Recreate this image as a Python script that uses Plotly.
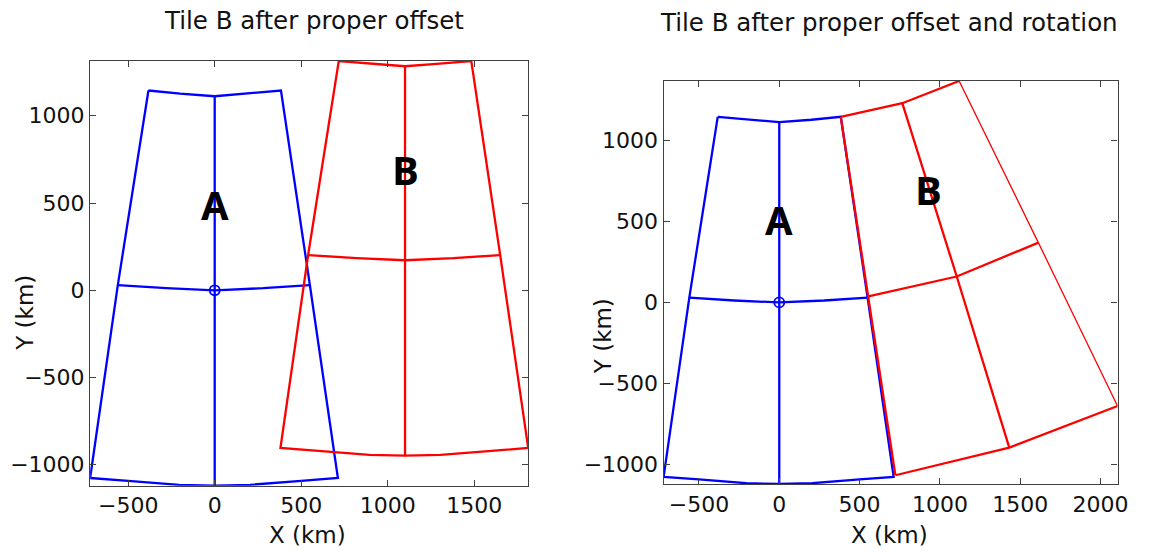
import plotly.graph_objects as go

W, H = 1153, 552

# ---------------- data (km) ----------------
# Tile A (blue), identical in both panels
A_outline_x = [-383, -200, 0, 200, 383, 550, 712, 500, 205, 0, -205, -500, -720, -560, -383]
A_outline_y = [1145, 1127, 1112, 1127, 1145, 30, -1076, -1092, -1115, -1120, -1115, -1092, -1076, 30, 1145]
A_mid_x = [-560, -280, 0, 280, 550]
A_mid_y = [30, 12, 0, 12, 30]
A_vert_x = [0, 0]
A_vert_y = [1112, -1120]
A_center_x = [0]
A_center_y = [0]

# Tile B after offset (left panel, red)
B1_outline_x = [717, 900, 1100, 1300, 1483, 1650, 1812, 1600, 1305, 1100, 895, 600, 380, 540, 717]
B1_outline_y = [1314, 1299, 1284, 1299, 1314, 202, -904, -920, -943, -948, -943, -920, -904, 202, 1314]
B1_mid_x = [540, 820, 1100, 1380, 1650]
B1_mid_y = [202, 184, 172, 184, 202]
B1_vert_x = [1100, 1100]
B1_vert_y = [1284, -948]

# Tile B after offset and rotation (right panel, red)
B2_left_x = [383, 555, 723]
B2_left_y = [1145, 37, -1066]
B2_top_x = [383, 766, 1120]
B2_top_y = [1145, 1229, 1366]
B2_mid_x = [555, 1105, 1613]
B2_mid_y = [37, 160, 369]
B2_bot_x = [723, 1432, 2106]
B2_bot_y = [-1066, -896, -639]
B2_vert_x = [766, 1105, 1432]
B2_vert_y = [1229, 160, -896]
B2_right_x = [1120, 1613, 2106]
B2_right_y = [1366, 369, -639]

# axes
left_xrange = [-720, 1812]
left_yrange = [-1120, 1314]
right_xrange = [-720, 2106]
right_yrange = [-1120, 1366]
left_xticks = [-500, 0, 500, 1000, 1500]
right_xticks = [-500, 0, 500, 1000, 1500, 2000]
yticks = [-1000, -500, 0, 500, 1000]

titles = ["Tile B after proper offset", "Tile B after proper offset and rotation"]
labels_left = [("A", 0, 494), ("B", 1103, 690)]
labels_right = [("A", 0, 512), ("B", 927, 696)]

BLUE = "#0000FF"
RED = "#FF0000"
AX = "#404040"
TXT = "#111111"
FONT = "DejaVu Sans"

fig = go.Figure()


def line(x, y, color, width, xa, ya):
    fig.add_trace(go.Scatter(x=x, y=y, mode="lines", line=dict(color=color, width=width),
                             xaxis=xa, yaxis=ya, showlegend=False, hoverinfo="skip"))


def center_marker(xa, ya):
    fig.add_trace(go.Scatter(x=A_center_x, y=A_center_y, mode="markers",
                             marker=dict(symbol="circle-open", size=10, color=BLUE,
                                         line=dict(width=1.8, color=BLUE)),
                             xaxis=xa, yaxis=ya, showlegend=False, hoverinfo="skip"))


LW = 2.3
# left panel
line(A_outline_x, A_outline_y, BLUE, LW, "x", "y")
line(A_mid_x, A_mid_y, BLUE, LW, "x", "y")
line(A_vert_x, A_vert_y, BLUE, LW, "x", "y")
center_marker("x", "y")
line(B1_outline_x, B1_outline_y, RED, LW, "x", "y")
line(B1_mid_x, B1_mid_y, RED, LW, "x", "y")
line(B1_vert_x, B1_vert_y, RED, LW, "x", "y")

# right panel
line(A_outline_x, A_outline_y, BLUE, LW, "x2", "y2")
line(A_mid_x, A_mid_y, BLUE, LW, "x2", "y2")
line(A_vert_x, A_vert_y, BLUE, LW, "x2", "y2")
center_marker("x2", "y2")
line(B2_left_x, B2_left_y, RED, LW, "x2", "y2")
line(B2_top_x, B2_top_y, RED, LW, "x2", "y2")
line(B2_mid_x, B2_mid_y, RED, LW, "x2", "y2")
line(B2_bot_x, B2_bot_y, RED, LW, "x2", "y2")
line(B2_vert_x, B2_vert_y, RED, LW, "x2", "y2")
line(B2_right_x, B2_right_y, RED, 1.3, "x2", "y2")


# pixel positions (from the top-left of the window) -> figure fractions
def fx(px):
    return px / W


def fy(py):
    return (H - py) / H


axis_common = dict(showline=True, linecolor=AX, linewidth=1.3, mirror="ticks", ticks="inside",
                   ticklen=6, tickcolor=AX, tickwidth=1, showgrid=False, zeroline=False,
                   tickfont=dict(family=FONT, size=22, color=TXT), fixedrange=True)

fig.update_layout(
    width=W, height=H, margin=dict(l=0, r=0, t=0, b=0),
    plot_bgcolor="white", paper_bgcolor="white", showlegend=False,
    xaxis=dict(domain=[fx(91), fx(533.3)], range=left_xrange, tickvals=left_xticks, anchor="y", **axis_common),
    yaxis=dict(domain=[fy(485.7), fy(61)], range=left_yrange, tickvals=yticks, anchor="x", **axis_common),
    xaxis2=dict(domain=[fx(670), fx(1128.3)], range=right_xrange, tickvals=right_xticks, anchor="y2", **axis_common),
    yaxis2=dict(domain=[fy(484), fy(81)], range=right_yrange, tickvals=yticks, anchor="x2", **axis_common),
)

ann = []
# titles
ann.append(dict(text=titles[0], x=fx(317), y=fy(21), xref="paper", yref="paper",
                showarrow=False, xanchor="center", yanchor="middle", font=dict(family=FONT, size=24.5, color=TXT)))
ann.append(dict(text=titles[1], x=fx(898), y=fy(23), xref="paper", yref="paper",
                showarrow=False, xanchor="center", yanchor="middle", font=dict(family=FONT, size=24.5, color=TXT)))
# axis labels
for xc in (310, 898):
    ann.append(dict(text="X (km)", x=fx(xc), y=fy(535), xref="paper", yref="paper",
                    showarrow=False, xanchor="center", yanchor="middle", font=dict(family=FONT, size=23, color=TXT)))
for xc, yc in ((25, 313), (609, 336)):
    ann.append(dict(text="Y (km)", x=fx(xc), y=fy(yc), xref="paper", yref="paper", textangle=-90,
                    showarrow=False, xanchor="center", yanchor="middle", font=dict(family=FONT, size=23, color=TXT)))
# tile letters
for t, x, y in labels_left:
    ann.append(dict(text="<b>%s</b>" % t, x=x, y=y, xref="x", yref="y", showarrow=False,
                    xanchor="center", yanchor="middle", font=dict(family="Open Sans", size=40, color="black")))
for t, x, y in labels_right:
    ann.append(dict(text="<b>%s</b>" % t, x=x, y=y, xref="x2", yref="y2", showarrow=False,
                    xanchor="center", yanchor="middle", font=dict(family="Open Sans", size=40, color="black")))
fig.update_layout(annotations=ann)

# remove the browser's default 8px body margin so the figure fills the window exactly
fig.write_html("out.html", config={"displayModeBar": False},
               post_script="document.body.style.margin='0';document.body.style.overflow='hidden';")
